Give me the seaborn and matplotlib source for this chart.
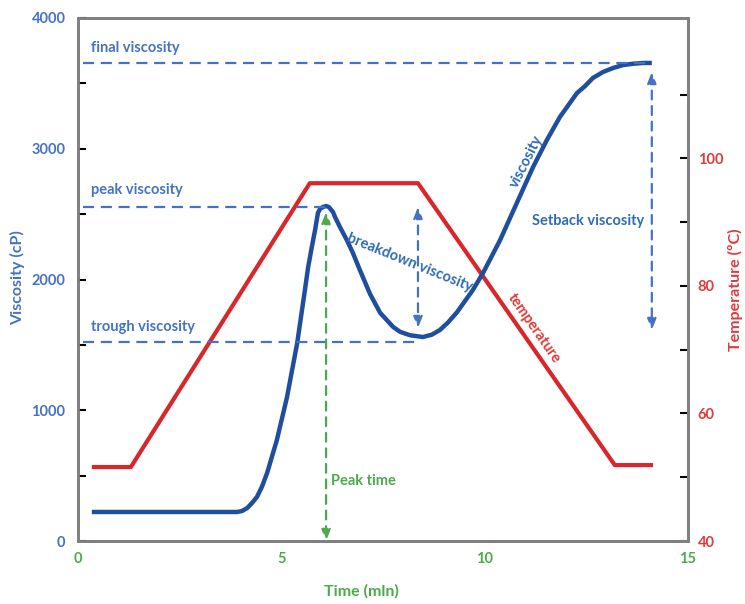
import numpy as np
import pandas as pd
import matplotlib
matplotlib.use("Agg")
import matplotlib.pyplot as plt
import seaborn as sns

# ---------------- data ----------------
time_visc = [0.34, 1.77, 3.00, 3.91, 4.03, 4.16, 4.28, 4.40, 4.52, 4.65, 4.89, 5.14,
             5.39, 5.58, 5.66, 5.75, 5.83, 5.90, 5.95, 6.02, 6.10, 6.17, 6.27, 6.32,
             6.44, 6.61, 6.76, 6.93, 7.18, 7.43, 7.75, 7.92, 8.16, 8.48, 8.70, 8.90,
             9.10, 9.32, 9.71, 9.96, 10.38, 10.79, 11.19, 11.53, 11.85, 12.27, 12.47,
             12.66, 12.91, 13.16, 13.40, 13.65, 13.89, 14.11]
viscosity = [222, 222, 222, 222, 229, 252, 291, 337, 413, 520, 772, 1101,
             1514, 1920, 2096, 2249, 2379, 2509, 2539, 2554, 2562, 2554, 2516, 2478,
             2402, 2302, 2203, 2073, 1890, 1745, 1637, 1600, 1574, 1560, 1578, 1614,
             1672, 1750, 1920, 2050, 2302, 2585, 2860, 3067, 3243, 3426, 3480,
             3541, 3587, 3618, 3640, 3650, 3656, 3656]
time_temp = [0.34, 1.30, 5.70, 8.36, 13.20, 14.14]
temperature = [51.6, 51.6, 96.1, 96.1, 51.9, 51.9]

final_visc = 3656
peak_visc = 2555
trough_visc = 1525
peak_time = 6.10
trough_time = 8.36
end_time = 14.11

x_ticks = [0, 5, 10, 15]
visc_ticks = list(range(0, 4001, 500))
temp_ticks = list(range(40, 111, 10))

# ---------------- style ----------------
VBLUE = "#1f4e9e"
LBLUE = "#4472c4"
TBLUE = "#2e6db4"
RED = "#d9262b"
TRED = "#e03a3a"
GREEN = "#4caa4c"

sns.set_theme(style="white")
plt.rcParams['font.family'] = ['Lato', 'DejaVu Sans']
plt.rcParams['font.weight'] = 'bold'

fig = plt.figure(figsize=(7.45, 6.04), dpi=100)
ax = fig.add_axes([0.1047, 0.1043, 0.8188, 0.8659])
ax2 = ax.twinx()
ax.set_zorder(ax2.get_zorder() + 1)
ax.patch.set_visible(False)

df_t = pd.DataFrame({"time": time_temp, "temp": temperature})
sns.lineplot(data=df_t, x="time", y="temp", ax=ax2, color=RED, lw=3.0,
             sort=False, estimator=None)
df_v = pd.DataFrame({"time": time_visc, "visc": viscosity})
sns.lineplot(data=df_v, x="time", y="visc", ax=ax, color=VBLUE, lw=3.2,
             sort=False, estimator=None)
for ln in ax.get_lines() + ax2.get_lines():
    ln.set_solid_joinstyle("round")
    ln.set_solid_capstyle("butt")

ax.set_xlim(0, 15)
ax.set_ylim(0, 4000)
ax2.set_ylim(40, 122)

# reference lines
dash = (0, (5, 3))
ax.hlines(final_visc, 0.12, end_time, colors=LBLUE, linestyles=dash, lw=1.6)
ax.hlines(peak_visc, 0.12, peak_time, colors=LBLUE, linestyles=dash, lw=1.6)
ax.hlines(trough_visc, 0.12, trough_time, colors=LBLUE, linestyles=dash, lw=1.6)

def darrow(x, y0, y1, color):
    ax.annotate("", xy=(x, y0), xytext=(x, y1),
                arrowprops=dict(arrowstyle="<|-|>,head_length=0.55,head_width=0.22",
                                color=color, lw=1.6, linestyle=(0, (4, 3)),
                                shrinkA=0, shrinkB=0))

darrow(trough_time, 1629, peak_visc, LBLUE)
darrow(end_time, 1614, 3587, LBLUE)
darrow(peak_time, 0, 2516, GREEN)

# texts
fs = 10.5
ax.text(0.32, 3770, "final viscosity", color=LBLUE, fontsize=fs, ha="left", va="center")
ax.text(0.32, 2685, "peak viscosity", color=LBLUE, fontsize=fs, ha="left", va="center")
ax.text(0.32, 1637, "trough viscosity", color=LBLUE, fontsize=fs, ha="left", va="center")
ax.text(8.16, 2126, "breakdown viscosity", color=TBLUE, fontsize=fs, ha="center",
        va="center", rotation=-22, rotation_mode="anchor")
ax.text(11.04, 2899, "viscosity", color=TBLUE, fontsize=fs, ha="center",
        va="center", rotation=63, rotation_mode="anchor")
ax.text(12.54, 2447, "Setback viscosity", color=TBLUE, fontsize=fs, ha="center", va="center")
ax.text(11.21, 1629, "temperature", color=TRED, fontsize=fs, ha="center",
        va="center", rotation=-55, rotation_mode="anchor")
ax.text(6.22, 459, "Peak time", color=GREEN, fontsize=fs, ha="left", va="center")

# ticks
ax.set_xticks(x_ticks)
ax.set_xticklabels([str(t) for t in x_ticks])
ax.set_yticks(visc_ticks)
ax.set_yticklabels([str(v) if v % 1000 == 0 else "" for v in visc_ticks])
ax2.set_yticks(temp_ticks)
ax2.set_yticklabels([str(v) if v % 20 == 0 else "" for v in temp_ticks])

ax.tick_params(axis="x", length=0, labelcolor=GREEN, labelsize=10.5, pad=8)
ax.tick_params(axis="y", direction="in", length=6, width=1.5, color="black",
               labelcolor=LBLUE, labelsize=10.5, pad=9, left=True)
ax2.tick_params(axis="y", direction="in", length=6, width=1.5, color="black",
                labelcolor=TRED, labelsize=10.5, pad=7, right=True)

ax.set_xlabel("Time (mln)", color=GREEN, fontsize=11.5, fontweight="bold")
ax.set_ylabel("Viscosity (cP)", color=LBLUE, fontsize=11.5, fontweight="bold")
ax2.set_ylabel("Temperature (ºC)", color=TRED, fontsize=11.5, fontweight="bold")
ax.xaxis.set_label_coords(0.464, -0.082)
ax.yaxis.set_label_coords(-0.087, 0.503)
ax2.yaxis.set_label_coords(1.0656, 0.48)

for a in (ax, ax2):
    for s in a.spines.values():
        s.set_color("#808080")
        s.set_linewidth(2.0)
ax.grid(False)
ax2.grid(False)

fig.savefig("out.png", dpi=100)
